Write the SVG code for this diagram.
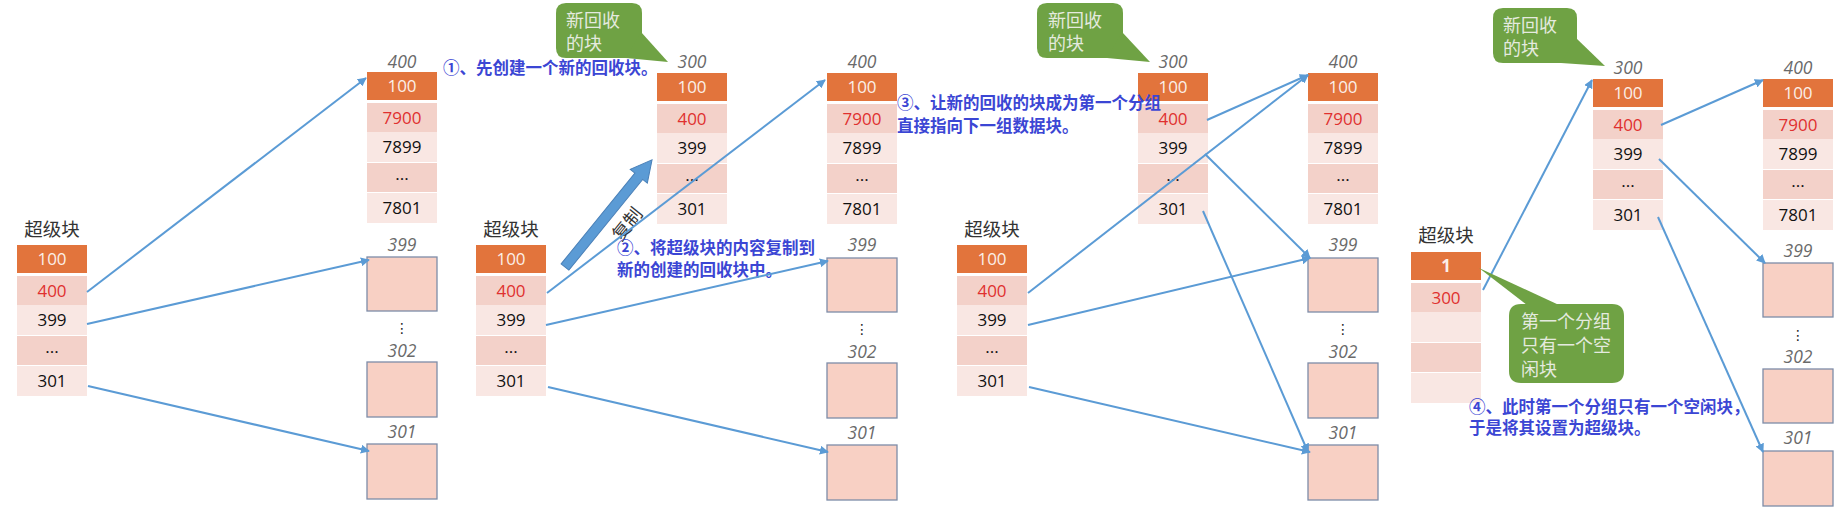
<svg xmlns="http://www.w3.org/2000/svg" width="1840" height="510" viewBox="0 0 1840 510">
<defs>
<style>
.o{fill:#E2743C}
.d{fill:#F3D1C9}
.l{fill:#F9E7E3}
.e{fill:#F8D0C4;stroke:#7D8CA8;stroke-width:1.3}
.n{font-family:"Open Sans","Liberation Sans",sans-serif;font-size:17px;text-anchor:middle;fill:#111}
.w{fill:#FBEFE8}
.r{fill:#E0302F}
.lab{font-family:"Open Sans","Liberation Sans",sans-serif;font-style:italic;fill:#6A6A6A;font-size:17.5px;text-anchor:middle}
.sl{font-family:"Noto Sans CJK SC",sans-serif;font-size:18.5px;fill:#333;text-anchor:middle}
.bt{font-family:"Noto Sans CJK SC",sans-serif;font-weight:bold;fill:#3B46D4;font-size:16.5px}
.ct{font-family:"Noto Sans CJK SC",sans-serif;font-size:18px;fill:#E4EADF}
.cb{fill:#6FA244}
.vd{font-family:"DejaVu Sans",sans-serif;font-size:14px;fill:#222;text-anchor:middle}
.conn path{stroke:#5B9BD5;stroke-width:2;fill:none;marker-end:url(#ah)}
</style>
<marker id="ah" viewBox="0 0 10 10" refX="9" refY="5" markerWidth="4.5" markerHeight="4.5" orient="auto" markerUnits="strokeWidth">
<path d="M0,0 L10,5 L0,10 z" fill="#5B9BD5"/>
</marker>
<g id="rows">
<rect class="o" x="0" y="0" width="70" height="28"/>
<rect class="d" x="0" y="31" width="70" height="29"/>
<rect class="l" x="0" y="60" width="70" height="30"/>
<rect class="d" x="0" y="91" width="70" height="29"/>
<rect class="l" x="0" y="121" width="70" height="30"/>
</g>
</defs>
<rect width="1840" height="510" fill="#fff"/>

<!-- Panel 1 -->
<g id="p1-super">
<text class="sl" x="52" y="236">超级块</text>
<g transform="translate(17,245)"><use href="#rows"/>
<text class="n w" x="35" y="20">100</text><text class="n r" x="35" y="51.5">400</text><text class="n" x="35" y="81">399</text><text class="n" x="35" y="108">...</text><text class="n" x="35" y="142">301</text></g>
</g>
<g id="p1-b400">
<text class="lab" x="402" y="68">400</text>
<g transform="translate(367,72)"><use href="#rows"/>
<text class="n w" x="35" y="20">100</text><text class="n r" x="35" y="51.5">7900</text><text class="n" x="35" y="81">7899</text><text class="n" x="35" y="108">...</text><text class="n" x="35" y="142">7801</text></g>
</g>
<g id="p1-b399"><text class="lab" x="402" y="251">399</text><rect class="e" x="367" y="257" width="70" height="54"/></g>
<text class="vd" x="402" y="333">⋮</text>
<g id="p1-b302"><text class="lab" x="402" y="357">302</text><rect class="e" x="367" y="362" width="70" height="55"/></g>
<g id="p1-b301"><text class="lab" x="402" y="438">301</text><rect class="e" x="367" y="444" width="70" height="55"/></g>
<text class="bt" x="443" y="74">①、先创建一个新的回收块。</text>

<!-- Panel 2 -->
<g id="p2-super">
<text class="sl" x="511" y="236">超级块</text>
<g transform="translate(476,245)"><use href="#rows"/>
<text class="n w" x="35" y="20">100</text><text class="n r" x="35" y="51.5">400</text><text class="n" x="35" y="81">399</text><text class="n" x="35" y="108">...</text><text class="n" x="35" y="142">301</text></g>
</g>
<g id="p2-callout">
<path class="cb" d="M566,3 H632 Q642,3 642,13 V48 Q642,58 632,58 H566 Q556,58 556,48 V13 Q556,3 566,3 Z"/>
<path class="cb" d="M641,32 L668,62 L626,58 Z"/>
<text class="ct" x="566" y="27">新回收</text><text class="ct" x="566" y="50">的块</text>
</g>
<g id="p2-b300">
<text class="lab" x="692" y="68">300</text>
<g transform="translate(657,73)"><use href="#rows"/>
<text class="n w" x="35" y="20">100</text><text class="n r" x="35" y="51.5">400</text><text class="n" x="35" y="81">399</text><text class="n" x="35" y="108">...</text><text class="n" x="35" y="142">301</text></g>
</g>
<g id="p2-b400">
<text class="lab" x="862" y="68">400</text>
<g transform="translate(827,73)"><use href="#rows"/>
<text class="n w" x="35" y="20">100</text><text class="n r" x="35" y="51.5">7900</text><text class="n" x="35" y="81">7899</text><text class="n" x="35" y="108">...</text><text class="n" x="35" y="142">7801</text></g>
</g>
<g id="p2-b399"><text class="lab" x="862" y="251">399</text><rect class="e" x="827" y="258" width="70" height="54"/></g>
<text class="vd" x="862" y="334">⋮</text>
<g id="p2-b302"><text class="lab" x="862" y="358">302</text><rect class="e" x="827" y="363" width="70" height="55"/></g>
<g id="p2-b301"><text class="lab" x="862" y="439">301</text><rect class="e" x="827" y="445" width="70" height="55"/></g>
<g id="p2-copy">
<polygon transform="translate(565,267) rotate(-50.9)" points="0,-5 117,-5 117,-11 138,0 117,11 117,5 0,5" fill="#5B9BD5" stroke="#4A80B8" stroke-width="1"/>
<text transform="translate(626,223) rotate(-51)" font-family="Noto Sans CJK SC, sans-serif" font-size="18" fill="#333" text-anchor="middle" dominant-baseline="central">复制</text>
</g>
<text class="bt" x="617" y="254">②、将超级块的内容复制到</text>
<text class="bt" x="617" y="276">新的创建的回收块中。</text>

<!-- Panel 3 -->
<g id="p3-super">
<text class="sl" x="992" y="236">超级块</text>
<g transform="translate(957,245)"><use href="#rows"/>
<text class="n w" x="35" y="20">100</text><text class="n r" x="35" y="51.5">400</text><text class="n" x="35" y="81">399</text><text class="n" x="35" y="108">...</text><text class="n" x="35" y="142">301</text></g>
</g>
<g id="p3-callout">
<path class="cb" d="M1047,3 H1113 Q1123,3 1123,13 V48 Q1123,58 1113,58 H1047 Q1037,58 1037,48 V13 Q1037,3 1047,3 Z"/>
<path class="cb" d="M1122,32 L1150,62 L1107,58 Z"/>
<text class="ct" x="1048" y="27">新回收</text><text class="ct" x="1048" y="50">的块</text>
</g>
<g id="p3-b300">
<text class="lab" x="1173" y="68">300</text>
<g transform="translate(1138,73)"><use href="#rows"/>
<text class="n w" x="35" y="20">100</text><text class="n r" x="35" y="51.5">400</text><text class="n" x="35" y="81">399</text><text class="n" x="35" y="108">...</text><text class="n" x="35" y="142">301</text></g>
</g>
<g id="p3-b400">
<text class="lab" x="1343" y="68">400</text>
<g transform="translate(1308,73)"><use href="#rows"/>
<text class="n w" x="35" y="20">100</text><text class="n r" x="35" y="51.5">7900</text><text class="n" x="35" y="81">7899</text><text class="n" x="35" y="108">...</text><text class="n" x="35" y="142">7801</text></g>
</g>
<g id="p3-b399"><text class="lab" x="1343" y="251">399</text><rect class="e" x="1308" y="258" width="70" height="54"/></g>
<text class="vd" x="1343" y="334">⋮</text>
<g id="p3-b302"><text class="lab" x="1343" y="358">302</text><rect class="e" x="1308" y="363" width="70" height="55"/></g>
<g id="p3-b301"><text class="lab" x="1343" y="439">301</text><rect class="e" x="1308" y="445" width="70" height="55"/></g>
<text class="bt" x="897" y="109">③、让新的回收的块成为第一个分组</text>
<text class="bt" x="897" y="132">直接指向下一组数据块。</text>

<!-- Panel 4 -->
<g id="p4-super">
<text class="sl" x="1446" y="242">超级块</text>
<g transform="translate(1411,252)"><use href="#rows"/>
<text class="n w" x="35" y="20" font-weight="bold">1</text><text class="n r" x="35" y="51.5">300</text></g>
</g>
<g id="p4-callout">
<path class="cb" d="M1503,8 H1567 Q1577,8 1577,18 V53 Q1577,63 1567,63 H1503 Q1493,63 1493,53 V18 Q1493,8 1503,8 Z"/>
<path class="cb" d="M1576,38 L1605,66 L1561,63 Z"/>
<text class="ct" x="1503" y="32">新回收</text><text class="ct" x="1503" y="55">的块</text>
</g>
<g id="p4-b300">
<text class="lab" x="1628" y="74">300</text>
<g transform="translate(1593,79)"><use href="#rows"/>
<text class="n w" x="35" y="20">100</text><text class="n r" x="35" y="51.5">400</text><text class="n" x="35" y="81">399</text><text class="n" x="35" y="108">...</text><text class="n" x="35" y="142">301</text></g>
</g>
<g id="p4-b400">
<text class="lab" x="1798" y="74">400</text>
<g transform="translate(1763,79)"><use href="#rows"/>
<text class="n w" x="35" y="20">100</text><text class="n r" x="35" y="51.5">7900</text><text class="n" x="35" y="81">7899</text><text class="n" x="35" y="108">...</text><text class="n" x="35" y="142">7801</text></g>
</g>
<g id="p4-b399"><text class="lab" x="1798" y="257">399</text><rect class="e" x="1763" y="263" width="70" height="54"/></g>
<text class="vd" x="1798" y="340">⋮</text>
<g id="p4-b302"><text class="lab" x="1798" y="363">302</text><rect class="e" x="1763" y="369" width="70" height="54"/></g>
<g id="p4-b301"><text class="lab" x="1798" y="444">301</text><rect class="e" x="1763" y="451" width="70" height="55"/></g>
<text class="bt" x="1469" y="413">④、此时第一个分组只有一个空闲块，</text>
<text class="bt" x="1469" y="434">于是将其设置为超级块。</text>

<!-- Connectors -->
<g id="connectors" class="conn">
<path d="M87,292 L366,78"/>
<path d="M87,324 L369,260"/>
<path d="M88,386 L369,451"/>
<path d="M547,293 L825,80"/>
<path d="M546,325 L828,261"/>
<path d="M548,387 L828,452"/>
<path d="M1028,293 L1308,75"/>
<path d="M1207,120 L1308,75"/>
<path d="M1205,154 L1310,258"/>
<path d="M1203,211 L1308,452"/>
<path d="M1028,325 L1310,258"/>
<path d="M1029,387 L1310,452"/>
<path d="M1483,290 L1592,80"/>
<path d="M1661,125 L1763,80"/>
<path d="M1659,159 L1765,263"/>
<path d="M1658,217 L1763,452"/>
</g>

<g id="p4-callout2">
<path class="cb" d="M1521,304 H1612 Q1624,304 1624,316 V371 Q1624,383 1612,383 H1521 Q1509,383 1509,371 V316 Q1509,304 1521,304 Z"/>
<path class="cb" d="M1527,305 L1479,268 L1559,305 Z"/>
<text class="ct" x="1521" y="328">第一个分组</text><text class="ct" x="1521" y="352">只有一个空</text><text class="ct" x="1521" y="376">闲块</text>
</g>
</svg>
